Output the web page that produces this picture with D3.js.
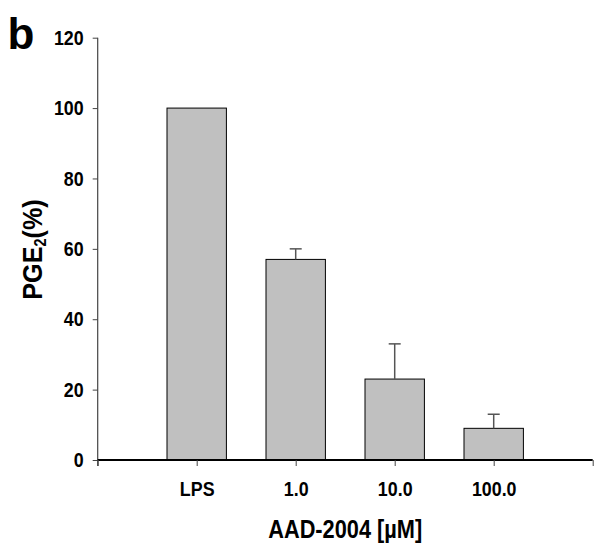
<!DOCTYPE html>
<html lang="en">
<head>
  <meta charset="UTF-8">
  <title>PGE2 vs AAD-2004</title>
  <script src="https://d3js.org/d3.v7.min.js"></script>
  <style>
    body { margin: 0; background: #fff; }
    svg text { font-family: "Liberation Sans", Arial, sans-serif; font-weight: bold; fill: #000; }
  </style>
</head>
<body>
  <svg id="chart" width="594" height="543"></svg>
  <script>
    // Data
    const categories = ["LPS", "1.0", "10.0", "100.0"];
    const values = [100, 57, 23, 9];
    const errors = [0, 3, 10, 4];
    const yTicks = [0, 20, 40, 60, 80, 100, 120];

    const svg = d3.select("#chart");
    const plotLeft = 97.7, plotRight = 592.7, plotTop = 37.7, plotBottom = 460;
    const squeeze = 0.85; // the figure's lettering is narrow

    // x: five equal slots, bars sit on slots 1..4
    const x = d3.scaleLinear().domain([0, 5]).range([plotLeft, plotRight]);
    const y = d3.scaleLinear().domain([0, 120]).range([plotBottom, plotTop]);
    const barW = (x(1) - x(0)) * 0.6;

    // Bars
    svg.selectAll(".bar")
      .data(values)
      .enter()
      .append("rect")
      .attr("class", "bar")
      .attr("x", (d, i) => x(i + 1) - barW / 2)
      .attr("y", d => y(d))
      .attr("width", barW)
      .attr("height", d => y(0) - y(d))
      .attr("fill", "#c0c0c0")
      .attr("stroke", "#000")
      .attr("stroke-width", 1);

    // Error bars (upper only)
    const eg = svg.append("g").attr("stroke", "#555").attr("stroke-width", 1.5);
    values.forEach((v, i) => {
      if (!errors[i]) return;
      const cx = x(i + 1);
      eg.append("line").attr("x1", cx).attr("x2", cx)
        .attr("y1", y(v)).attr("y2", y(v + errors[i]));
      eg.append("line").attr("x1", cx - 6).attr("x2", cx + 6)
        .attr("y1", y(v + errors[i])).attr("y2", y(v + errors[i]));
    });

    // Y axis
    const yAxis = svg.append("g")
      .attr("transform", `translate(${plotLeft},0)`)
      .call(d3.axisLeft(y).tickValues(yTicks).tickSize(5).tickPadding(8));
    yAxis.select(".domain").remove();
    yAxis.append("line")
      .attr("x1", 0).attr("x2", 0)
      .attr("y1", plotTop).attr("y2", plotBottom + 6)
      .attr("stroke", "#444").attr("stroke-width", 1.2);
    yAxis.selectAll(".tick line").attr("stroke", "#444");
    yAxis.selectAll("text")
      .attr("x", -14 / squeeze)
      .attr("transform", `scale(${squeeze},1)`)
      .style("font-size", "21px");

    // X axis
    const xAxis = svg.append("g")
      .attr("transform", `translate(0,${plotBottom})`)
      .call(d3.axisBottom(x).tickValues([0, 1, 2, 3, 4, 5]).tickSize(6).tickPadding(15)
        .tickFormat(d => categories[d - 1] || ""));
    xAxis.select(".domain").attr("d", `M${plotLeft},0H${plotRight}`).attr("stroke", "#000").attr("stroke-width", 2);
    xAxis.selectAll(".tick line").attr("stroke", "#444");
    xAxis.selectAll("text")
      .attr("transform", `scale(${squeeze},1)`)
      .style("font-size", "21px");

    // Axis titles
    svg.append("text")
      .attr("transform", `translate(${(plotLeft + plotRight) / 2},537.5) scale(0.87,1)`)
      .attr("text-anchor", "middle")
      .style("font-size", "25px")
      .text("AAD-2004 [µM]");

    const yt = svg.append("text")
      .attr("transform", `translate(42,249.5) rotate(-90) scale(0.9,1)`)
      .attr("text-anchor", "middle")
      .style("font-size", "28px");
    yt.append("tspan").text("PGE");
    yt.append("tspan").attr("dy", 4).style("font-size", "16px").text("2");
    yt.append("tspan").attr("dy", -4).text("(%)");

    // Panel letter
    svg.append("text")
      .attr("x", 7.5)
      .attr("y", 49.3)
      .style("font-size", "44px")
      .text("b");
  </script>
</body>
</html>
